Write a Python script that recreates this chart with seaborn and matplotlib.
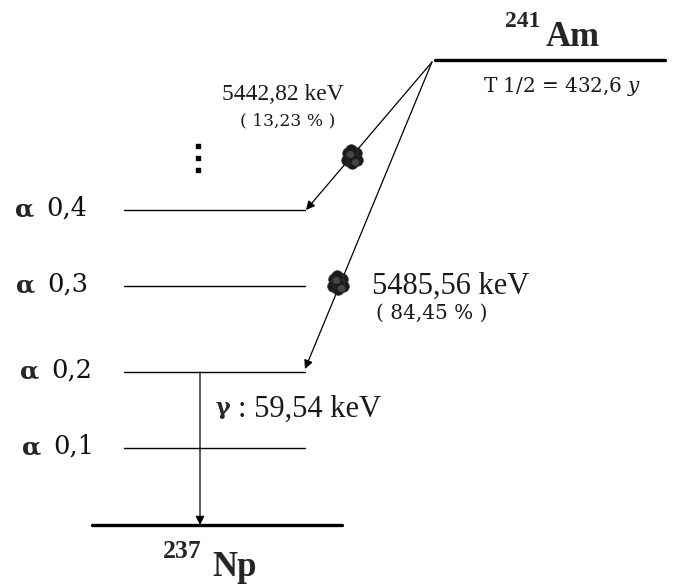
import matplotlib
matplotlib.use("Agg")
import matplotlib.pyplot as plt
import seaborn as sns
import pandas as pd
import numpy as np

sns.set_theme(style="white")
plt.rcParams['font.family'] = ['DejaVu Serif', 'Liberation Serif']
plt.rcParams['mathtext.fontset'] = 'custom'
plt.rcParams['mathtext.rm'] = 'DejaVu Serif'
plt.rcParams['mathtext.it'] = 'DejaVu Serif:italic'

# ---- data ----
level_alpha = ["α", "α", "α", "α"]
level_index = ["0,4", "0,3", "0,2", "0,1"]
level_y = [210, 286, 372, 448]
parent_name = ("241", "Am")
daughter_name = ("237", "Np")
half_life = "T 1/2 = 432,6 $\\it{y}$"
alpha_energies = ["5442,82 keV", "5485,56 keV"]
alpha_intensities = ["( 13,23 % )", "( 84,45 % )"]
gamma_symbol = "γ"
gamma_energy = ": 59,54 keV"

W, H = 679, 586
fig = plt.figure(figsize=(W / 100, H / 100), dpi=100)
ax = fig.add_axes([0, 0, 1, 1])

# level lines
thin = pd.DataFrame({
    "x": np.tile([124, 305], len(level_y)),
    "y": np.repeat(level_y, 2),
    "lvl": np.repeat(level_index, 2),
})
sns.lineplot(data=thin, x="x", y="y", units="lvl", estimator=None,
             color="black", lw=1.0, ax=ax, sort=False)
thick = pd.DataFrame({
    "x": [435, 665, 92, 342],
    "y": [60, 60, 525, 525],
    "lvl": ["Am", "Am", "Np", "Np"],
})
sns.lineplot(data=thick, x="x", y="y", units="lvl", estimator=None,
             color="black", lw=2.4, ax=ax, sort=False)
ax.set_xlim(0, W)
ax.set_ylim(H, 0)
ax.axis("off")

alpha_x = [15, 16, 20, 22]
for a, idx, y, xl in zip(level_alpha, level_index, level_y, alpha_x):
    ax.text(xl, y - 1, a, fontsize=18, fontweight="bold", va="center", ha="left",
            family="DejaVu Serif")
    ax.text(xl + 31, y - 2, idx, fontsize=18.5, va="center", ha="left",
            family="DejaVu Serif", color="#111111")

# alpha arrows
apex = (432, 62)
ap = dict(arrowstyle="-|>", color="black", lw=0.9, mutation_scale=13, shrinkA=0, shrinkB=0)
ax.annotate("", xy=(306, 210), xytext=apex, arrowprops=ap)
ax.annotate("", xy=(305, 369), xytext=apex, arrowprops=ap)
# gamma arrow
ax.annotate("", xy=(200, 525), xytext=(200, 372), arrowprops=ap)

# blobs
for cx, cy in [(352, 157), (338, 283)]:
    offs = [(-4, -4), (4, -4), (-5, 3), (5, 3), (0, 6), (0, 0), (-1, -7)]
    ax.scatter([cx + dx for dx, dy in offs], [cy + dy for dx, dy in offs],
               s=70, color="#1a1a1a", edgecolor="#333333", lw=0.5, zorder=5)
    ax.scatter([cx + 3, cx - 2], [cy + 5, cy - 3], s=18, color="#444444", zorder=6)

# vertical dots
ax.scatter([198, 198, 198], [146, 158, 170], s=9, color="black", marker="s")

# labels
tc = "#1a1a1a"
ax.text(222, 94, alpha_energies[0], fontsize=17, va="center", ha="left", color=tc,
        family="Liberation Serif")
ax.text(240, 121, alpha_intensities[0], fontsize=12.3, va="center", ha="left", color=tc)
ax.text(372, 286, alpha_energies[1], fontsize=22, va="center", ha="left", color=tc,
        family="Liberation Serif")
ax.text(376, 313, alpha_intensities[1], fontsize=14.4, va="center", ha="left", color=tc)
ax.text(215, 408, gamma_symbol, fontsize=16, fontweight="bold", va="center", ha="left")
ax.text(238, 409, gamma_energy, fontsize=22, va="center", ha="left", color=tc,
        family="Liberation Serif")
ax.text(483, 86, half_life, fontsize=14.4, va="center", ha="left", color=tc)

ax.text(505, 27, parent_name[0], fontsize=17, fontweight="bold", va="baseline", ha="left",
        family="Liberation Serif")
ax.text(546, 46, parent_name[1], fontsize=25, fontweight="bold", va="baseline", ha="left",
        family="Liberation Serif")
ax.text(163, 558, daughter_name[0], fontsize=18.5, fontweight="bold", va="baseline", ha="left",
        family="Liberation Serif")
ax.text(212, 576, daughter_name[1], fontsize=25, fontweight="bold", va="baseline", ha="left",
        family="Liberation Serif")

fig.savefig("out.png", dpi=100)
